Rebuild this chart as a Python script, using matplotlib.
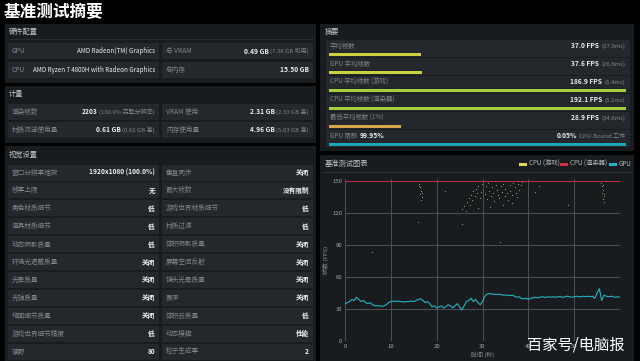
import matplotlib
matplotlib.use("Agg")
import matplotlib.pyplot as plt
from matplotlib.patches import Rectangle

plt.rcParams['font.family'] = ['Noto Sans CJK SC', 'DejaVu Sans']

# ---- data ----
hw_left_labels = ["GPU", "CPU"]
hw_left_values = ["AMD Radeon(TM) Graphics", "AMD Ryzen 7 4800H with Radeon Graphics"]
hw_right_labels = ["总 VRAM", "总内存"]
hw_right_values = ["0.49 GB", "15.50 GB"]
hw_right_notes = ["(7.38 GB 可用)", ""]

metric_left_labels = ["渲染帧数", "材质流送使用量"]
metric_left_values = ["2203", "0.61 GB"]
metric_left_notes = ["(100.0% 完整分辨率)", "(0.62 GB 高)"]
metric_right_labels = ["VRAM 使用", "内存使用量"]
metric_right_values = ["2.31 GB", "4.96 GB"]
metric_right_notes = ["(2.33 GB 高)", "(5.03 GB 高)"]

set_left_labels = ["窗口分辨率缩放", "帧率上限", "角色材质细节", "道具材质细节", "动态阴影质量",
                   "环境光遮蔽质量", "光晕质量", "光轴质量", "地面细节质量", "游戏世界细节精度", "视野"]
set_left_values = ["1920x1080 (100.0%)", "无", "低", "低", "低",
                   "关闭", "关闭", "关闭", "关闭", "低", "80"]
set_right_labels = ["垂直同步", "最大帧数", "游戏世界材质细节", "材质过滤", "体积阴影质量",
                    "屏幕空间反射", "镜头光晕质量", "景深", "体积云质量", "动态模糊", "粒子生成率"]
set_right_values = ["关闭", "没有限制", "低", "低", "关闭",
                    "关闭", "关闭", "关闭", "低", "性能", "2"]

summary_labels = ["平均帧数", "GPU 平均帧数", "CPU 平均帧数 (游戏)", "CPU 平均帧数 (渲染器)", "最低平均帧数 (1%)"]
summary_fps = [37.0, 37.6, 186.9, 192.1, 28.9]
summary_ms = [27.0, 26.6, 5.4, 5.2, 34.6]
summary_colors = ["#c9d143", "#c9d143", "#a3cf3a", "#a3cf3a", "#d6a74a"]
bar_scale_fps = 120
gpu_bound_pct = 99.95
cpu_bound_pct = 0.05

gpu_t = [0, 0.5, 1, 1.5, 2, 2.5, 3, 3.5, 4, 4.5, 5, 5.5, 6, 6.5, 7, 7.5, 8, 8.5, 9, 9.5,
         10, 10.5, 11, 11.5, 12, 12.5, 13, 13.5, 14, 14.5, 15, 15.5, 16, 16.5, 17, 17.5, 18, 18.5, 19, 19.5,
         20, 20.5, 21, 21.5, 22, 22.5, 23, 23.5, 24, 24.5, 25, 25.5, 26, 26.5, 27, 27.5, 28, 28.5, 29, 29.5,
         30, 30.5, 31, 31.5, 32, 32.5, 33, 33.5, 34, 34.5, 35, 35.5, 36, 36.5, 37, 37.5, 38, 38.5, 39, 39.5,
         40, 40.5, 41, 41.5, 42, 42.5, 43, 43.5, 44, 44.5, 45, 45.5, 46, 46.5, 47, 47.5, 48, 48.5, 49, 49.5,
         50, 50.5, 51, 51.5, 52, 52.5, 53, 53.5, 54, 54.5, 55, 55.5, 56, 56.5, 57, 57.5, 58, 58.5, 59, 59.5, 60]
gpu_fps = [35, 36, 37, 39, 38, 41, 39, 37, 38, 36, 35, 36, 34, 33, 33, 33, 32.5, 33, 34, 36,
           37, 37.5, 37, 37.5, 37, 37, 36.5, 37, 37, 37.5, 37, 38, 39, 39.5, 38, 36, 37, 35, 32, 33,
           31, 32, 33, 31, 32, 34, 33, 31, 33, 35, 32, 29, 33, 37, 38, 40, 37, 39, 36, 34,
           37, 42, 44, 44.5, 44, 44, 43.5, 44, 43.5, 43, 43, 43, 42.5, 43, 42, 41, 41.5, 40, 39.5, 40,
           39, 40, 40.5, 41, 40.5, 41, 41.5, 41, 41, 41.5, 41, 41.5, 41, 41.5, 41.5, 41, 41.5, 42, 41.5, 41,
           41.5, 42, 41.5, 41.5, 42, 41.5, 42, 41.5, 42, 40, 45, 49, 38, 43, 42, 41.5, 42, 41.5, 41, 41.5, 41]

cpu_game_t = [16.2, 16.4, 16.6, 16.3, 16.7, 16.5, 16.1, 16.8, 21.8, 16.0, 25.5, 33.8, 5.8,
              25.6, 26.0, 26.3, 26.7, 27.0, 27.2, 27.5, 27.8, 28.0, 28.3, 28.5, 28.8, 29.1, 29.4, 29.6, 29.9,
              30.2, 30.5, 30.8, 31.0, 31.3, 31.5, 31.8, 32.0, 32.3, 32.6, 32.9, 33.1, 33.4, 33.7, 34.0, 34.2,
              34.5, 34.8, 35.0, 35.3, 35.6, 35.9, 36.1, 36.4, 36.7, 37.0, 37.2, 37.5, 37.8, 38.0, 38.3, 38.6,
              31.6, 34.4, 29.0, 36.5, 41.5, 48.7, 42.4,
              55.9, 56.1, 56.3, 56.0, 56.4, 56.2, 56.5, 56.6, 56.3]
cpu_game_fps = [147, 144, 141, 138, 135, 132, 145, 139, 141, 112, 110, 93, 83,
                124, 127, 122, 130, 134, 128, 137, 132, 141, 136, 143, 139, 145, 134, 140, 147,
                142, 138, 145, 133, 148, 141, 136, 144, 139, 131, 146, 142, 137, 134, 145, 140,
                147, 136, 143, 139, 132, 146, 141, 137, 148, 144, 139, 135, 147, 142, 146, 149,
                126, 128, 125, 129, 140, 128, 145,
                148, 145, 142, 139, 136, 133, 130, 138, 146]
cpu_render_cap = 150
x_ticks = [0, 10, 20, 30, 40, 50]
y_ticks = [0, 30, 60, 90, 120, 150]

# ---- colours ----
panel_c = "#191c1f"
row_c = "#24282c"
lab_c = "#7f8589"
val_c = "#eeeeee"
note_c = "#80868a"

fig = plt.figure(figsize=(6.4, 3.61), dpi=100, facecolor="black")
bg = fig.add_axes([0, 0, 1, 1])
bg.set_xlim(0, 640)
bg.set_ylim(361, 0)
bg.axis("off")
bg.set_facecolor("black")
renderer = fig.canvas.get_renderer()


def box(x, y, w, h, c):
    bg.add_patch(Rectangle((x, y), w, h, facecolor=c, edgecolor="none"))


def txt(x, y, s, size=4.8, color=lab_c, ha="left", weight="normal"):
    return bg.text(x, y, s, fontsize=size, color=color, ha=ha, va="center", fontweight=weight)


def value(xr, y, main, note="", weight="bold", size=4.8):
    x = xr
    if note:
        t = txt(x, y, note, size=4.3, color=note_c, ha="right")
        w = t.get_window_extent(renderer).width
        x = xr - w - 2
    txt(x, y, main, size=size, color=val_c, ha="right", weight=weight)


def pair_rows(y0, step, h, ll, lv, ln, rl, rv, rn, lweight="bold", lsize=4.8):
    for i in range(len(ll)):
        y = y0 + i * step
        box(8, y, 151, h, row_c)
        box(162, y, 151, h, row_c)
        txt(12, y + h / 2, ll[i])
        value(155, y + h / 2, lv[i], ln[i], weight=lweight, size=lsize)
        txt(166, y + h / 2, rl[i])
        value(309, y + h / 2, rv[i], rn[i])


# title
bg.text(4, 12, "基准测试摘要", fontsize=12, color="white", fontweight="bold", va="center")

# hardware
box(5, 24, 311, 59, panel_c)
txt(9, 32, "硬件配置", size=5.2, color="#c4c8cb")
bg.plot([8, 313], [39, 39], color="#2c3034", lw=0.6)
pair_rows(43, 19, 16, hw_left_labels, hw_left_values, ["", ""],
          hw_right_labels, hw_right_values, hw_right_notes, lweight="normal", lsize=4.5)

# metrics
box(5, 86, 311, 57, panel_c)
txt(9, 94, "计量", size=5.2, color="#c4c8cb")
pair_rows(104, 18, 16, metric_left_labels, metric_left_values, metric_left_notes,
          metric_right_labels, metric_right_values, metric_right_notes)

# visual settings
box(5, 146, 311, 215, panel_c)
txt(9, 155, "视觉设置", size=5.2, color="#c4c8cb")
pair_rows(164.5, 17.9, 16, set_left_labels, set_left_values, [""] * 11,
          set_right_labels, set_right_values, [""] * 11)

# summary
box(320, 24, 314, 127, panel_c)
txt(325, 32, "摘要", size=5.2, color="#c4c8cb")
bar_x0, bar_w = 329, 297
for i in range(len(summary_labels)):
    y = 40 + i * 18
    box(326, y, 304, 17, row_c)
    txt(330, y + 6, summary_labels[i], size=4.6)
    value(625, y + 6, "%.1f FPS" % summary_fps[i], "(%.1fms)" % summary_ms[i])
    frac = min(summary_fps[i] / bar_scale_fps, 1.0)
    box(bar_x0, y + 13, bar_w * frac, 3, summary_colors[i])
y = 40 + 5 * 18
box(326, y, 304, 17, row_c)
txt(330, y + 6, "GPU 限制", size=4.6)
txt(360, y + 6, "%.2f%%" % gpu_bound_pct, size=4.8, color=val_c, weight="bold")
value(625, y + 6, "%.2f%%" % cpu_bound_pct, "CPU-Bound 工作")
box(bar_x0, y + 13, bar_w * gpu_bound_pct / 100, 3, "#1ba6b9")

# chart panel
box(320, 155, 314, 206, panel_c)
txt(325, 164, "基准测试图表", size=5.2, color="#c4c8cb")
bg.plot([324, 630], [172, 172], color="#33373b", lw=0.6)
legend_items = [("CPU (游戏)", "#e6d64c", 519), ("CPU (渲染器)", "#d12f45", 560), ("GPU", "#22b3c8", 609)]
for name, c, lx in legend_items:
    box(lx, 162.5, 8, 3, c)
    txt(lx + 10, 164, name, size=4.5, color="#b8bcbf")

ax = fig.add_axes([345 / 640, 20 / 361, 275 / 640, 0.449])
ax.set_facecolor("none")
ax.set_xlim(0, 60)
ax.set_ylim(0, 152)
for s in ax.spines.values():
    s.set_visible(False)
ax.set_xticks(x_ticks)
ax.set_yticks(y_ticks)
ax.grid(True, color="#55595d", lw=0.6)
ax.tick_params(length=0, labelsize=4.3, colors="#a3a7ab", pad=2)
ax.set_xlabel("时间 (秒)", fontsize=4.3, color="#8a8e92", labelpad=2)
ax.set_ylabel("帧数 (FPS)", fontsize=4.3, color="#8a8e92", labelpad=2)
ax.axhline(cpu_render_cap, color="#c42a3f", lw=0.7)
ax.scatter(cpu_game_t, cpu_game_fps, s=0.6, color="#cfc07a", alpha=0.85, linewidths=0)
ax.plot(gpu_t, gpu_fps, color="#25b3c3", lw=0.8)

# watermark
fig.text(527 / 640, 1 - 345 / 361, "百家号/电脑报", fontsize=11, color="white", va="center")

fig.savefig("out.png", dpi=100, facecolor="black")
